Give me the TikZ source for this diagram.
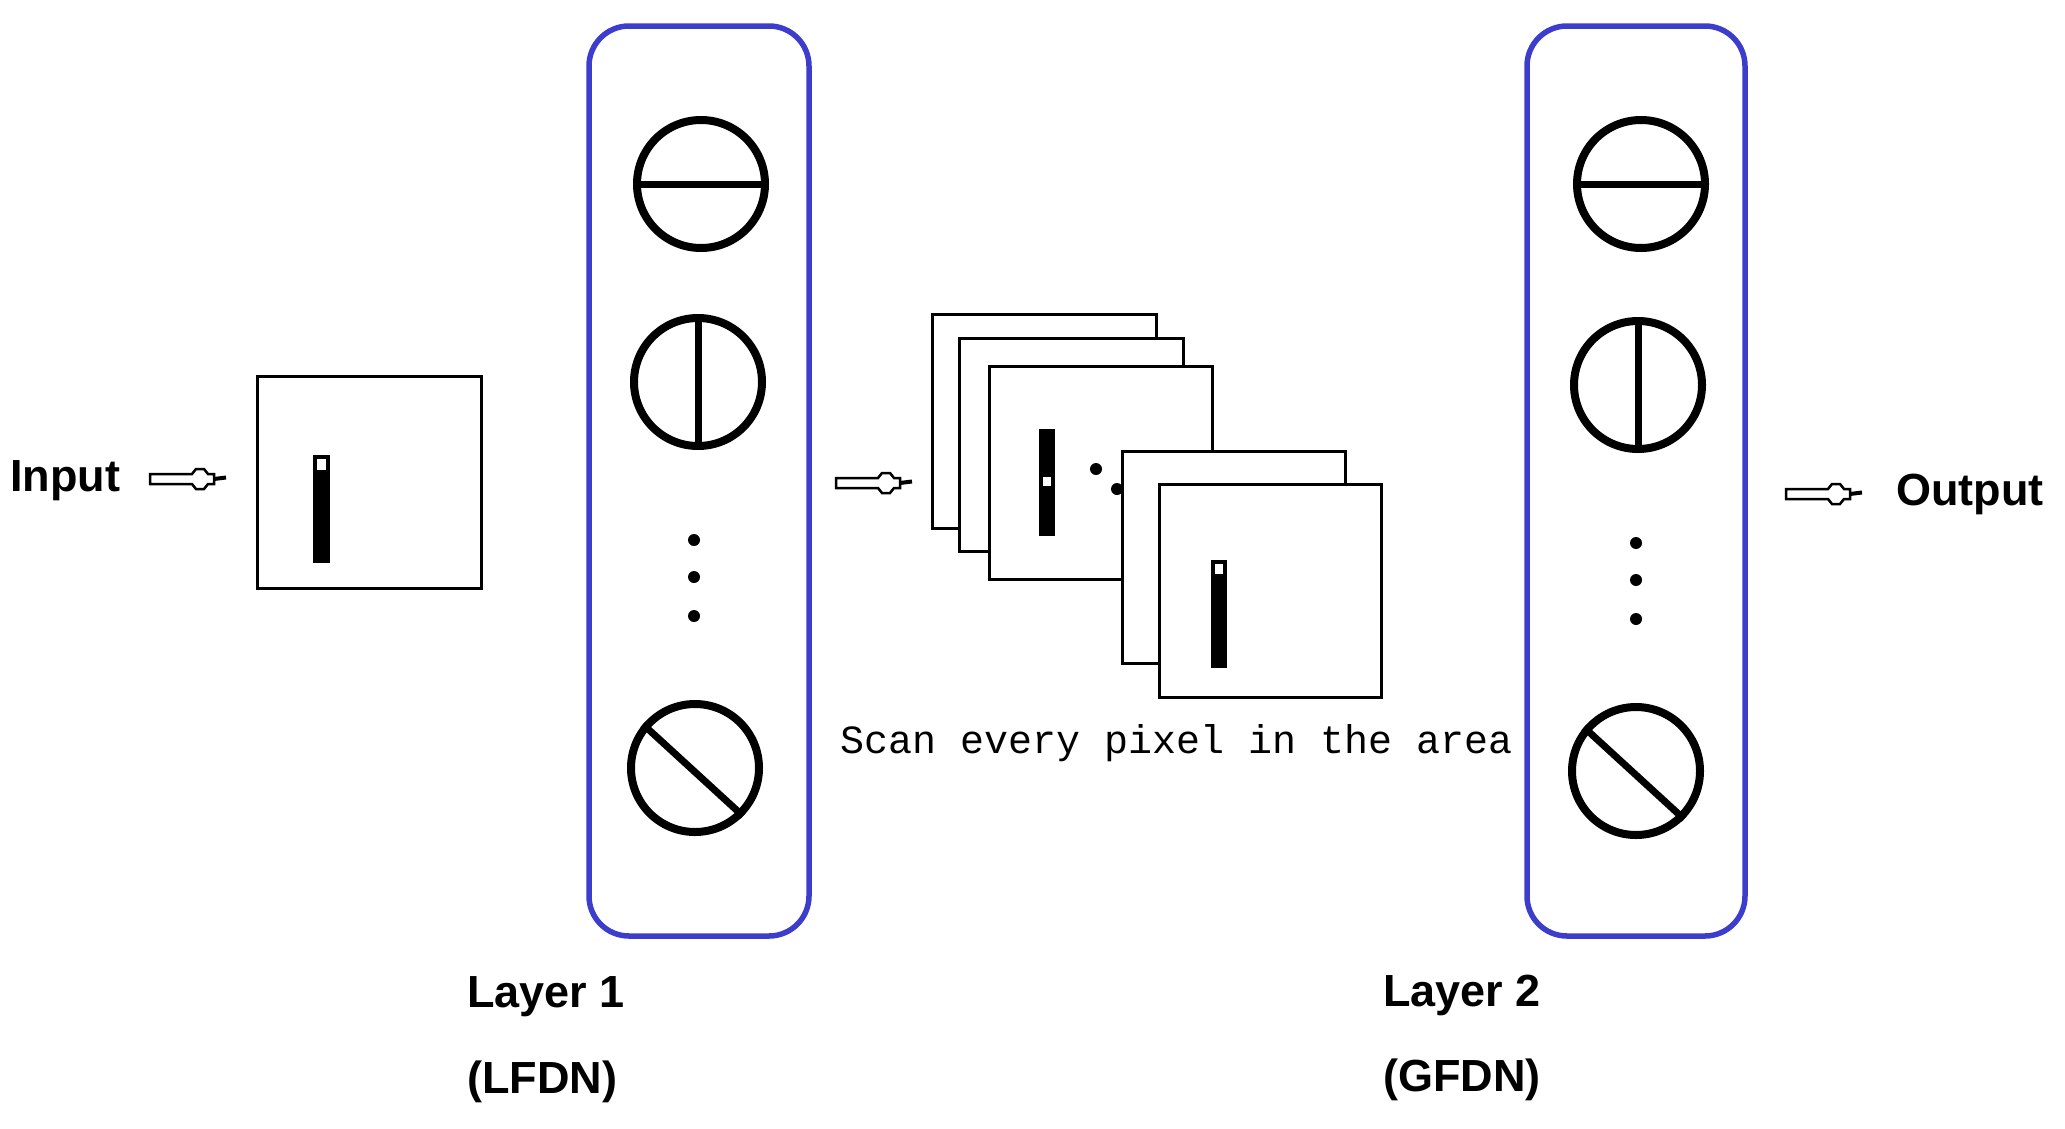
\documentclass[tikz,border=0pt]{standalone}
\usepackage{fontspec}
\setmainfont{Liberation Sans}
\newfontfamily\monof{Liberation Mono}
\begin{document}
\begin{tikzpicture}[x=1pt,y=-1pt,
  layerbox/.style={draw={rgb,255:red,60;green,60;blue,205},line width=5.5pt,rounded corners=40pt},
  neuron/.style={circle,draw,line width=8pt,minimum size=128pt,inner sep=0pt},
  frame/.style={draw,fill=white,line width=3pt},
  lbl/.style={font=\bfseries\fontsize{45}{47}\selectfont,inner sep=0pt},
  dotm/.style={circle,fill,inner sep=0pt,minimum size=12pt},
  hollow/.pic={\draw[line width=2.5pt,fill=white] (0,-5)--(42,-5)--(46,-10)--(54,-10)--(58,-5)--(64,-5)--(64,5)--(58,5)--(54,10)--(46,10)--(42,5)--(0,5)--cycle;
    \draw[line width=4pt] (64,0)--(76,-1.5);}
]
\useasboundingbox (0,0) rectangle (2065,1128);
% texts
\node[lbl,anchor=west] (in) at (10,481) {Input};
\node[lbl,anchor=west] (out) at (1896,494) {Output};
\node[lbl,anchor=west] (l1) at (467,997) {Layer 1};
\node[lbl,anchor=west] (l1b) at (467,1082) {(LFDN)};
\node[lbl,anchor=west] (l2) at (1383,995) {Layer 2};
\node[lbl,anchor=west] (l2b) at (1383,1080) {(GFDN)};
\node[font=\monof\fontsize{40}{42}\selectfont,anchor=west,inner sep=0pt] (scan) at (840,743) {Scan every pixel in the area};
% arrows
\pic at (150,479) {hollow};
\pic at (836,483) {hollow};
\pic at (1786,494) {hollow};
% input box
\draw[frame] (257,376) rectangle (481,588);
\fill (313,455) rectangle (330,563);
\fill[white] (317,459) rectangle (326,470);
% layer boxes
\draw[layerbox] (589,26) rectangle (809,936);
\draw[layerbox] (1527,26) rectangle (1745,936);
% neurons layer 1
\node[neuron] (a1) at (701,184) {};
\draw[line width=7pt] (a1.west)--(a1.east);
\node[neuron] (a2) at (698,382) {};
\draw[line width=7pt] (a2.north)--(a2.south);
\node[dotm] at (694,540) {};\node[dotm] at (694,577) {};\node[dotm] at (694,616) {};
\node[neuron] (a3) at (695,768) {};
\draw[line width=7pt] (a3.140)--(a3.-45);
% neurons layer 2
\node[neuron] (b1) at (1641,184) {};
\draw[line width=7pt] (b1.west)--(b1.east);
\node[neuron] (b2) at (1638,385) {};
\draw[line width=7pt] (b2.north)--(b2.south);
\node[dotm] at (1636,543) {};\node[dotm] at (1636,580) {};\node[dotm] at (1636,619) {};
\node[neuron] (b3) at (1636,771) {};
\draw[line width=7pt] (b3.140)--(b3.-45);
% frames
\draw[frame] (932,314) rectangle (1156,528);
\draw[frame] (959,338) rectangle (1183,551);
\draw[frame] (989,366) rectangle (1212,579);
\fill (1039,429) rectangle (1055,536);
\fill[white] (1043,477) rectangle (1051,486);
\fill (1096,469) circle (6);
\fill (1117,489) circle (6);
\draw[frame] (1122,451) rectangle (1345,663);
\draw[frame] (1159,484) rectangle (1381,697);
\fill (1211,560) rectangle (1227,668);
\fill[white] (1215,564) rectangle (1223,574);
\end{tikzpicture}
\end{document}
